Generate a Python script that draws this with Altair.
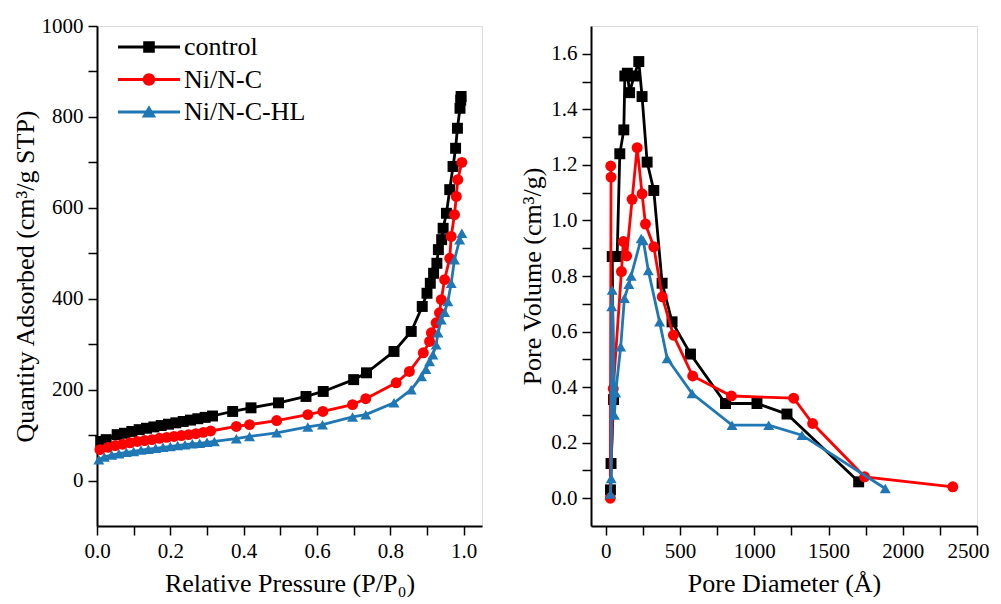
import altair as alt
import pandas as pd

FONT = "Liberation Serif"

series_names = ["control", "Ni/N-C", "Ni/N-C-HL"]
series_colors = ["#000000", "#ff0000", "#1f77b4"]
marker_shapes = ["square", "circle", "triangle-up"]

# ---------------- Left panel: N2 isotherm ----------------
ctrl_p = [0.010, 0.025, 0.055, 0.075, 0.095, 0.115, 0.135, 0.155, 0.175, 0.195, 0.215, 0.235,
          0.255, 0.275, 0.295, 0.315, 0.37, 0.42, 0.495, 0.57, 0.617, 0.70, 0.735, 0.81, 0.857,
          0.887, 0.90, 0.909, 0.918, 0.927, 0.931, 0.940, 0.944, 0.953, 0.962, 0.971, 0.978,
          0.983, 0.990, 0.992, 0.993]
ctrl_q = [86, 90, 101, 104, 108, 112, 115, 118, 121, 124, 127, 130,
          133, 136, 139, 142, 152, 160, 171, 185, 196, 222, 237, 284, 328,
          383, 412, 434, 456, 478, 508, 530, 555, 588, 640, 691, 731,
          775, 819, 837, 845]

nic_p = [0.008, 0.03, 0.05, 0.07, 0.09, 0.11, 0.13, 0.15, 0.17, 0.19, 0.21, 0.23, 0.25, 0.27,
         0.29, 0.31, 0.38, 0.416, 0.49, 0.575, 0.616, 0.697, 0.733, 0.816, 0.852, 0.89, 0.907,
         0.912, 0.925, 0.934, 0.939, 0.948, 0.962, 0.966, 0.975, 0.98, 0.984, 0.995]
nic_q = [68, 73, 77, 80, 83, 86, 88, 90, 93, 95, 97, 99, 101, 103,
         106, 109, 119, 123, 132, 145, 152, 167, 180, 215, 240, 281, 306,
         325, 347, 369, 398, 442, 489, 537, 585, 625, 662, 700]

hl_p = [0.005, 0.02, 0.04, 0.06, 0.08, 0.10, 0.12, 0.14, 0.16, 0.18, 0.20, 0.22, 0.24, 0.26,
        0.28, 0.30, 0.32, 0.38, 0.416, 0.49, 0.575, 0.615, 0.697, 0.733, 0.81, 0.857, 0.885,
        0.897, 0.907, 0.916, 0.925, 0.93, 0.939, 0.948, 0.957, 0.966, 0.975, 0.989, 0.995]
hl_q = [46, 52, 56, 59, 62, 64, 67, 69, 71, 73, 75, 77, 79, 81,
        82, 84, 86, 92, 97, 105, 118, 123, 140, 145, 171, 200, 229,
        245, 262, 277, 299, 325, 354, 370, 394, 434, 486, 530, 544]

# ---------------- Right panel: pore size distribution ----------------
ctrl_d = [31, 35, 52, 43, 76, 94, 121, 128, 145, 160, 190, 222, 244, 278, 323, 379, 446, 570,
          806, 1018, 1220, 1703]
ctrl_v = [0.03, 0.125, 0.355, 0.87, 0.87, 1.24, 1.326, 1.52, 1.53, 1.46, 1.52, 1.572, 1.446,
          1.21, 1.108, 0.774, 0.635, 0.519, 0.341, 0.341, 0.303, 0.059]

nic_d = [33, 35, 30, 50, 105, 118, 140, 177, 211, 244, 267, 323, 380, 455, 585, 846, 1265,
         1393, 1743, 2337]
nic_v = [1.196, 1.156, 0.0, 0.395, 0.816, 0.924, 0.872, 1.076, 1.262, 1.096, 0.987, 0.905,
         0.725, 0.587, 0.44, 0.368, 0.36, 0.269, 0.077, 0.041]

hl_d = [31, 36, 40, 43, 58, 66, 100, 125, 155, 170, 238, 252, 286, 362, 413, 581, 850, 1097,
        1321, 1882]
hl_v = [0.015, 0.071, 0.69, 0.75, 0.30, 0.38, 0.545, 0.72, 0.77, 0.80, 0.935, 0.928, 0.82,
        0.635, 0.503, 0.377, 0.263, 0.263, 0.227, 0.035]

# legend symbols: line segment with the marker in the middle (unit box scaled by sqrt(size)/2)
legend_paths = [
    "M-3.1,-0.14L3.1,-0.14L3.1,0.14L-3.1,0.14Z M-0.58,-0.58L0.58,-0.58L0.58,0.58L-0.58,0.58Z",
    "M-3.1,-0.14L3.1,-0.14L3.1,0.14L-3.1,0.14Z M-0.62,0A0.62,0.62 0 1,1 0.62,0A0.62,0.62 0 1,1 -0.62,0Z",
    "M-3.1,-0.14L3.1,-0.14L3.1,0.14L-3.1,0.14Z M0,-0.68L0.72,0.56L-0.72,0.56Z",
]


def frame(xs, ys, name):
    return pd.DataFrame({"x": xs, "y": ys, "series": name, "idx": list(range(len(xs)))})


left_df = pd.concat([frame(ctrl_p, ctrl_q, series_names[0]),
                     frame(nic_p, nic_q, series_names[1]),
                     frame(hl_p, hl_q, series_names[2])])
right_df = pd.concat([frame(ctrl_d, ctrl_v, series_names[0]),
                      frame(nic_d, nic_v, series_names[1]),
                      frame(hl_d, hl_v, series_names[2])])

axis_common = dict(
    labelFont=FONT, labelFontSize=21, labelColor="black", labelOverlap=False,
    titleFont=FONT, titleFontSize=26, titleFontWeight="normal", titleColor="black",
    domainColor="black", domainWidth=2, tickColor="black", tickWidth=1.5,
    tickSize=9, labelPadding=5, grid=False,
)

left_x = alt.X("x:Q", scale=alt.Scale(domain=[0, 1.05], nice=False, zero=False),
               axis=alt.Axis(values=[round(i / 10, 1) for i in range(11)],
                             labelExpr="(round(datum.value*10) % 2 == 0) ? format(datum.value, '.1f') : ''",
                             labelFlush=False,
                             title="Relative Pressure (P/P₀)", titlePadding=9, **axis_common))
left_y = alt.Y("y:Q", scale=alt.Scale(domain=[-100, 1000], nice=False, zero=False),
               axis=alt.Axis(values=list(range(0, 1001, 100)),
                             labelExpr="(datum.value % 200 == 0) ? format(datum.value, 'd') : ''",
                             labelFlush=False,
                             title="Quantity Adsorbed (cm³/g STP)", titlePadding=3, **axis_common))

right_x = alt.X("x:Q", scale=alt.Scale(domain=[-100, 2500], nice=False, zero=False),
                axis=alt.Axis(values=list(range(0, 2501, 250)),
                              labelExpr="(datum.value % 500 == 0) ? format(datum.value, 'd') : ''",
                              labelFlush=True, labelFlushOffset=12,
                              title="Pore Diameter (Å)", titlePadding=9, **axis_common))
right_y = alt.Y("y:Q", scale=alt.Scale(domain=[-0.1, 1.7], nice=False, zero=False),
                axis=alt.Axis(values=[round(i / 10, 1) for i in range(17)],
                              labelExpr="(round(datum.value*10) % 2 == 0) ? format(datum.value, '.1f') : ''",
                              labelFlush=False,
                              title="Pore Volume (cm³/g)", titlePadding=5, **axis_common))


def series_layers(df, xenc, yenc):
    layers = []
    for name, col, shp in zip(series_names, series_colors, marker_shapes):
        sub = df[df["series"] == name]
        base = alt.Chart(sub)
        layers.append(base.mark_line(strokeWidth=2.8, color=col).encode(x=xenc, y=yenc, order="idx:Q"))
        layers.append(base.mark_point(filled=True, shape=shp, size=120, color=col, opacity=1,
                                      strokeWidth=0).encode(x=xenc, y=yenc))
    return layers


legend_spec = alt.Legend(
    title=None, orient="none", legendX=39, legendY=8,
    labelFont=FONT, labelFontSize=26, labelColor="black",
    symbolSize=400, symbolStrokeWidth=0, symbolOpacity=1,
    labelOffset=22, rowPadding=6.5, padding=0,
)

legend_df = pd.DataFrame({"x": [0.5] * 3, "y": [500] * 3, "series": series_names})
legend_layer = alt.Chart(legend_df).mark_point(filled=True, opacity=0).encode(
    x=left_x, y=left_y,
    color=alt.Color("series:N", scale=alt.Scale(domain=series_names, range=series_colors),
                    legend=legend_spec, sort=series_names),
    shape=alt.Shape("series:N", scale=alt.Scale(domain=series_names, range=legend_paths),
                    legend=legend_spec, sort=series_names),
)

left = alt.layer(*series_layers(left_df, left_x, left_y), legend_layer).properties(width=385, height=500)
right = alt.layer(*series_layers(right_df, right_x, right_y)).properties(width=386, height=500)

chart = alt.hconcat(left, right, spacing=36).properties(
    padding={"left": 3, "top": 6, "right": 0, "bottom": 0}
).configure_view(stroke=None).configure(background="white")

chart.save("out.html", embed_options={"renderer": "svg", "actions": False})
